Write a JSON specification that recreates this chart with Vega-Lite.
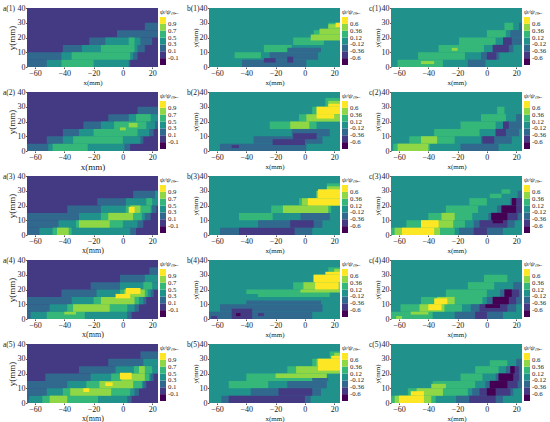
{
  "$schema": "https://vega.github.io/schema/vega-lite/v6.json",
  "padding": {"left": 3, "top": 4, "right": 0, "bottom": 0},
  "background": "white",
  "datasets": {
    "a1": [
      {"x": -65.5, "x2": 24, "y": 0, "y2": 40, "v": 0},
      {"x": -65.5, "x2": 5, "y": 0, "y2": 5, "v": 0.2},
      {"x": -65.5, "x2": 10, "y": 5, "y2": 10, "v": 0.2},
      {"x": -41, "x2": 15, "y": 10, "y2": 15, "v": 0.2},
      {"x": -23, "x2": 20, "y": 15, "y2": 20, "v": 0.2},
      {"x": -4, "x2": 24, "y": 20, "y2": 25, "v": 0.2},
      {"x": 15, "x2": 24, "y": 25, "y2": 30, "v": 0.2},
      {"x": -52, "x2": 4, "y": 0, "y2": 5, "v": 0.4},
      {"x": -42, "x2": 7, "y": 5, "y2": 10, "v": 0.4},
      {"x": -28, "x2": 10, "y": 10, "y2": 15, "v": 0.4},
      {"x": -12, "x2": 12, "y": 15, "y2": 20, "v": 0.4},
      {"x": -42, "x2": -20, "y": 0, "y2": 5, "v": 0.6},
      {"x": -35, "x2": 5, "y": 5, "y2": 10, "v": 0.6},
      {"x": -15, "x2": 8, "y": 10, "y2": 15, "v": 0.6},
      {"x": 4, "x2": 8, "y": 15, "y2": 20, "v": 0.6}
    ],
    "a2": [
      {"x": -65.5, "x2": 24, "y": 0, "y2": 40, "v": 0},
      {"x": -65.5, "x2": 5, "y": 0, "y2": 5, "v": 0.2},
      {"x": -52, "x2": 14, "y": 5, "y2": 10, "v": 0.2},
      {"x": -41, "x2": 21, "y": 10, "y2": 15, "v": 0.2},
      {"x": -27, "x2": 24, "y": 15, "y2": 20, "v": 0.2},
      {"x": -10, "x2": 24, "y": 20, "y2": 25, "v": 0.2},
      {"x": 10, "x2": 24, "y": 25, "y2": 30, "v": 0.2},
      {"x": -51, "x2": 1, "y": 0, "y2": 5, "v": 0.4},
      {"x": -41, "x2": 12, "y": 5, "y2": 10, "v": 0.4},
      {"x": -30, "x2": 18, "y": 10, "y2": 15, "v": 0.4},
      {"x": -15, "x2": 22, "y": 15, "y2": 20, "v": 0.4},
      {"x": 4, "x2": 24, "y": 20, "y2": 25, "v": 0.4},
      {"x": -48, "x2": -24, "y": 0, "y2": 5, "v": 0.6},
      {"x": -34, "x2": 0, "y": 5, "y2": 10, "v": 0.6},
      {"x": -20, "x2": 10, "y": 10, "y2": 15, "v": 0.6},
      {"x": -6, "x2": 16, "y": 15, "y2": 20, "v": 0.6},
      {"x": 9, "x2": 19, "y": 20, "y2": 25, "v": 0.6},
      {"x": -2, "x2": 2, "y": 14, "y2": 16, "v": 0.8},
      {"x": 4, "x2": 10, "y": 16, "y2": 19, "v": 0.8}
    ],
    "a3": [
      {"x": -65.5, "x2": 24, "y": 0, "y2": 40, "v": 0},
      {"x": -65.5, "x2": 9, "y": 0, "y2": 5, "v": 0.2},
      {"x": -65.5, "x2": 14, "y": 5, "y2": 10, "v": 0.2},
      {"x": -65.5, "x2": 19, "y": 10, "y2": 15, "v": 0.2},
      {"x": -38, "x2": 23, "y": 15, "y2": 20, "v": 0.2},
      {"x": -17.5, "x2": 24, "y": 20, "y2": 25, "v": 0.2},
      {"x": 7, "x2": 24, "y": 25, "y2": 30, "v": 0.2},
      {"x": -57, "x2": 5, "y": 0, "y2": 5, "v": 0.4},
      {"x": -44, "x2": 10, "y": 5, "y2": 10, "v": 0.4},
      {"x": -30, "x2": 15, "y": 10, "y2": 15, "v": 0.4},
      {"x": -15, "x2": 20, "y": 15, "y2": 20, "v": 0.4},
      {"x": 2, "x2": 24, "y": 20, "y2": 25, "v": 0.4},
      {"x": 22, "x2": 24, "y": 25, "y2": 30, "v": 0.4},
      {"x": -48, "x2": -35, "y": 0, "y2": 5, "v": 0.6},
      {"x": -32, "x2": 0, "y": 5, "y2": 10, "v": 0.6},
      {"x": -15, "x2": 13, "y": 10, "y2": 15, "v": 0.6},
      {"x": 2, "x2": 19, "y": 15, "y2": 20, "v": 0.6},
      {"x": 16, "x2": 20, "y": 20, "y2": 25, "v": 0.6},
      {"x": -45, "x2": -37, "y": 0, "y2": 5, "v": 0.8},
      {"x": -30, "x2": -9, "y": 5, "y2": 10, "v": 0.8},
      {"x": -10, "x2": 7, "y": 10, "y2": 15, "v": 0.8},
      {"x": 5, "x2": 12, "y": 15, "y2": 20, "v": 0.8},
      {"x": 4, "x2": 8, "y": 15, "y2": 19, "v": 0.95}
    ],
    "a4": [
      {"x": -65.5, "x2": 24, "y": 0, "y2": 40, "v": 0},
      {"x": -65.5, "x2": 6, "y": 0, "y2": 5, "v": 0.2},
      {"x": -65.5, "x2": 11, "y": 5, "y2": 10, "v": 0.2},
      {"x": -65.5, "x2": 16, "y": 10, "y2": 15, "v": 0.2},
      {"x": -42, "x2": 21, "y": 15, "y2": 20, "v": 0.2},
      {"x": -22, "x2": 24, "y": 20, "y2": 25, "v": 0.2},
      {"x": -2, "x2": 24, "y": 25, "y2": 30, "v": 0.2},
      {"x": 18, "x2": 24, "y": 30, "y2": 35, "v": 0.2},
      {"x": -63, "x2": 3, "y": 0, "y2": 5, "v": 0.4},
      {"x": -50, "x2": 8, "y": 5, "y2": 10, "v": 0.4},
      {"x": -35, "x2": 14, "y": 10, "y2": 15, "v": 0.4},
      {"x": -18, "x2": 19, "y": 15, "y2": 20, "v": 0.4},
      {"x": -2, "x2": 24, "y": 20, "y2": 25, "v": 0.4},
      {"x": 15, "x2": 24, "y": 25, "y2": 30, "v": 0.4},
      {"x": -52, "x2": -26, "y": 0, "y2": 5, "v": 0.6},
      {"x": -38, "x2": 3, "y": 5, "y2": 10, "v": 0.6},
      {"x": -20, "x2": 11, "y": 10, "y2": 15, "v": 0.6},
      {"x": -2, "x2": 17, "y": 15, "y2": 20, "v": 0.6},
      {"x": 14, "x2": 20, "y": 20, "y2": 25, "v": 0.6},
      {"x": -40, "x2": -32, "y": 3, "y2": 5, "v": 0.8},
      {"x": -34, "x2": -9, "y": 5, "y2": 10, "v": 0.8},
      {"x": -15, "x2": 8, "y": 10, "y2": 15, "v": 0.8},
      {"x": 1, "x2": 15, "y": 15, "y2": 20, "v": 0.8},
      {"x": -5, "x2": 5, "y": 14, "y2": 17, "v": 0.95},
      {"x": 2, "x2": 12, "y": 17, "y2": 21, "v": 0.95}
    ],
    "a5": [
      {"x": -65.5, "x2": 24, "y": 0, "y2": 40, "v": 0},
      {"x": -65.5, "x2": 6, "y": 0, "y2": 5, "v": 0.2},
      {"x": -65.5, "x2": 11, "y": 5, "y2": 10, "v": 0.2},
      {"x": -65.5, "x2": 16, "y": 10, "y2": 15, "v": 0.2},
      {"x": -53, "x2": 21, "y": 15, "y2": 20, "v": 0.2},
      {"x": -30, "x2": 24, "y": 20, "y2": 25, "v": 0.2},
      {"x": -10, "x2": 24, "y": 25, "y2": 30, "v": 0.2},
      {"x": 12, "x2": 24, "y": 30, "y2": 35, "v": 0.2},
      {"x": -64, "x2": 3, "y": 0, "y2": 5, "v": 0.4},
      {"x": -52, "x2": 8, "y": 5, "y2": 10, "v": 0.4},
      {"x": -38, "x2": 14, "y": 10, "y2": 15, "v": 0.4},
      {"x": -22, "x2": 19, "y": 15, "y2": 20, "v": 0.4},
      {"x": -5, "x2": 24, "y": 20, "y2": 25, "v": 0.4},
      {"x": 14, "x2": 24, "y": 25, "y2": 30, "v": 0.4},
      {"x": -55, "x2": -17, "y": 0, "y2": 5, "v": 0.6},
      {"x": -41, "x2": 5, "y": 5, "y2": 10, "v": 0.6},
      {"x": -25, "x2": 13, "y": 10, "y2": 15, "v": 0.6},
      {"x": -8, "x2": 18, "y": 15, "y2": 20, "v": 0.6},
      {"x": 7.5, "x2": 20, "y": 20, "y2": 25, "v": 0.6},
      {"x": -50, "x2": -38, "y": 0, "y2": 5, "v": 0.8},
      {"x": -36, "x2": -8, "y": 5, "y2": 10, "v": 0.8},
      {"x": -16, "x2": 7, "y": 10, "y2": 15, "v": 0.8},
      {"x": -1, "x2": 15, "y": 15, "y2": 20, "v": 0.8},
      {"x": 11, "x2": 15, "y": 20, "y2": 25, "v": 0.8},
      {"x": -27, "x2": -23, "y": 7.5, "y2": 10, "v": 0.95},
      {"x": -12, "x2": -7, "y": 11.5, "y2": 14, "v": 0.95},
      {"x": -2, "x2": 6, "y": 16, "y2": 20.5, "v": 0.95}
    ],
    "b1": [
      {"x": -65.5, "x2": 24, "y": 0, "y2": 40, "v": 0},
      {"x": -48, "x2": -30, "y": 6, "y2": 10, "v": 0.24},
      {"x": -28, "x2": -9, "y": 10, "y2": 15, "v": 0.24},
      {"x": -8, "x2": 13, "y": 15, "y2": 20, "v": 0.24},
      {"x": 6, "x2": 24, "y": 20, "y2": 25, "v": 0.24},
      {"x": 16, "x2": 24, "y": 25, "y2": 30, "v": 0.24},
      {"x": -43, "x2": 1, "y": 0, "y2": 5, "v": -0.24},
      {"x": -24, "x2": 9, "y": 5, "y2": 10, "v": -0.24},
      {"x": -12, "x2": 11, "y": 10, "y2": 13, "v": -0.24},
      {"x": 4, "x2": 24, "y": 18, "y2": 22, "v": 0.48},
      {"x": 10, "x2": 24, "y": 22, "y2": 26, "v": 0.48},
      {"x": 16, "x2": 24, "y": 26, "y2": 29, "v": 0.48},
      {"x": -28, "x2": -20, "y": 3, "y2": 6, "v": -0.48},
      {"x": -12, "x2": -8, "y": 3, "y2": 7, "v": -0.48},
      {"x": 21, "x2": 24, "y": 27, "y2": 30, "v": 0.7}
    ],
    "b2": [
      {"x": -65.5, "x2": 24, "y": 0, "y2": 40, "v": 0},
      {"x": -24, "x2": 8, "y": 15, "y2": 20, "v": 0.24},
      {"x": -4, "x2": 24, "y": 20, "y2": 25, "v": 0.24},
      {"x": 5, "x2": 24, "y": 25, "y2": 30, "v": 0.24},
      {"x": 14, "x2": 24, "y": 30, "y2": 36, "v": 0.24},
      {"x": -58, "x2": 1, "y": 0, "y2": 5, "v": -0.24},
      {"x": -35, "x2": 12, "y": 5, "y2": 10, "v": -0.24},
      {"x": -9, "x2": 17, "y": 10, "y2": 15, "v": -0.24},
      {"x": -10, "x2": 3, "y": 15, "y2": 20, "v": 0.48},
      {"x": 1, "x2": 24, "y": 20, "y2": 25, "v": 0.48},
      {"x": 8, "x2": 24, "y": 25, "y2": 30, "v": 0.48},
      {"x": 16, "x2": 24, "y": 30, "y2": 34, "v": 0.48},
      {"x": -50, "x2": -45, "y": 2, "y2": 4, "v": -0.48},
      {"x": -22, "x2": 0, "y": 4, "y2": 8, "v": -0.48},
      {"x": -8, "x2": 8, "y": 8, "y2": 12, "v": -0.48},
      {"x": 8, "x2": 20, "y": 22, "y2": 25, "v": 0.7},
      {"x": 8, "x2": 24, "y": 25, "y2": 30, "v": 0.7},
      {"x": 16, "x2": 24, "y": 30, "y2": 32, "v": 0.7}
    ],
    "b3": [
      {"x": -65.5, "x2": 24, "y": 0, "y2": 40, "v": 0},
      {"x": -45, "x2": -22, "y": 10, "y2": 15, "v": 0.24},
      {"x": -23, "x2": 18, "y": 15, "y2": 20, "v": 0.24},
      {"x": -4, "x2": 24, "y": 20, "y2": 25, "v": 0.24},
      {"x": 8, "x2": 24, "y": 25, "y2": 30, "v": 0.24},
      {"x": 15, "x2": 24, "y": 30, "y2": 35, "v": 0.24},
      {"x": -58, "x2": 5, "y": 0, "y2": 5, "v": -0.24},
      {"x": -32, "x2": 12, "y": 5, "y2": 10, "v": -0.24},
      {"x": -3, "x2": 17, "y": 10, "y2": 15, "v": -0.24},
      {"x": -15, "x2": 16, "y": 15, "y2": 20, "v": 0.48},
      {"x": -2, "x2": 24, "y": 20, "y2": 25, "v": 0.48},
      {"x": 8, "x2": 24, "y": 25, "y2": 30, "v": 0.48},
      {"x": 15, "x2": 24, "y": 30, "y2": 33, "v": 0.48},
      {"x": -45, "x2": -7, "y": 0, "y2": 5, "v": -0.48},
      {"x": -10, "x2": 6, "y": 5, "y2": 10, "v": -0.48},
      {"x": 2, "x2": 24, "y": 20, "y2": 25, "v": 0.7},
      {"x": 9, "x2": 24, "y": 25, "y2": 31, "v": 0.7}
    ],
    "b4": [
      {"x": -65.5, "x2": 24, "y": 0, "y2": 40, "v": 0},
      {"x": -40, "x2": -32, "y": 17, "y2": 20, "v": 0.24},
      {"x": -32, "x2": 17, "y": 15, "y2": 20, "v": 0.24},
      {"x": -8, "x2": 24, "y": 20, "y2": 25, "v": 0.24},
      {"x": 6, "x2": 24, "y": 25, "y2": 30, "v": 0.24},
      {"x": 16, "x2": 24, "y": 30, "y2": 35, "v": 0.24},
      {"x": -65.5, "x2": 5, "y": 0, "y2": 5, "v": -0.24},
      {"x": -58, "x2": 12, "y": 5, "y2": 10, "v": -0.24},
      {"x": -40, "x2": 11, "y": 10, "y2": 12.5, "v": -0.24},
      {"x": -3, "x2": 24, "y": 18, "y2": 20, "v": 0.48},
      {"x": -1, "x2": 24, "y": 20, "y2": 25, "v": 0.48},
      {"x": 6, "x2": 24, "y": 25, "y2": 30, "v": 0.48},
      {"x": 20, "x2": 24, "y": 30, "y2": 34, "v": 0.48},
      {"x": -50, "x2": -36, "y": 0, "y2": 7, "v": -0.48},
      {"x": -64, "x2": -60, "y": 0, "y2": 2, "v": -0.48},
      {"x": -32, "x2": -28, "y": 2, "y2": 4, "v": -0.48},
      {"x": 7, "x2": 23, "y": 20, "y2": 25, "v": 0.7},
      {"x": 6, "x2": 24, "y": 25, "y2": 30, "v": 0.7},
      {"x": 14, "x2": 24, "y": 30, "y2": 32, "v": 0.7},
      {"x": -47, "x2": -44, "y": 2, "y2": 4, "v": -0.7}
    ],
    "b5": [
      {"x": -65.5, "x2": 24, "y": 0, "y2": 40, "v": 0},
      {"x": -52, "x2": -25, "y": 10, "y2": 15, "v": 0.24},
      {"x": -40, "x2": 8, "y": 15, "y2": 20, "v": 0.24},
      {"x": -12, "x2": 24, "y": 20, "y2": 25, "v": 0.24},
      {"x": 5, "x2": 24, "y": 25, "y2": 30, "v": 0.24},
      {"x": 17, "x2": 24, "y": 30, "y2": 35, "v": 0.24},
      {"x": -57, "x2": 4, "y": 0, "y2": 5, "v": -0.24},
      {"x": -37, "x2": 11, "y": 5, "y2": 10, "v": -0.24},
      {"x": -12, "x2": 15, "y": 10, "y2": 15, "v": -0.24},
      {"x": 5, "x2": 16, "y": 15, "y2": 17, "v": -0.24},
      {"x": -20, "x2": 15, "y": 17, "y2": 20, "v": 0.48},
      {"x": -6, "x2": 24, "y": 20, "y2": 25, "v": 0.48},
      {"x": 8, "x2": 24, "y": 25, "y2": 30, "v": 0.48},
      {"x": 20, "x2": 24, "y": 30, "y2": 34, "v": 0.48},
      {"x": -52, "x2": 0, "y": 0, "y2": 5, "v": -0.48},
      {"x": -18, "x2": 5, "y": 5, "y2": 10, "v": -0.48},
      {"x": 9, "x2": 24, "y": 22, "y2": 30, "v": 0.7},
      {"x": 18, "x2": 24, "y": 30, "y2": 32, "v": 0.7}
    ],
    "c1": [
      {"x": -65.5, "x2": 24, "y": 0, "y2": 40, "v": 0},
      {"x": -61, "x2": -30, "y": 0, "y2": 5, "v": 0.24},
      {"x": -47, "x2": -15, "y": 5, "y2": 10, "v": 0.24},
      {"x": -33, "x2": -2, "y": 10, "y2": 15, "v": 0.24},
      {"x": -19, "x2": 6, "y": 15, "y2": 20, "v": 0.24},
      {"x": 0, "x2": 13, "y": 20, "y2": 25, "v": 0.24},
      {"x": 12, "x2": 18, "y": 25, "y2": 30, "v": 0.24},
      {"x": -13, "x2": -1, "y": 0, "y2": 5, "v": -0.24},
      {"x": -4, "x2": 8.5, "y": 5, "y2": 10, "v": -0.24},
      {"x": 4, "x2": 18, "y": 10, "y2": 15, "v": -0.24},
      {"x": 11, "x2": 24, "y": 15, "y2": 20, "v": -0.24},
      {"x": 16, "x2": 24, "y": 20, "y2": 25, "v": -0.24},
      {"x": 22, "x2": 24, "y": 25, "y2": 30, "v": -0.24},
      {"x": -45, "x2": -36, "y": 2, "y2": 4, "v": 0.48},
      {"x": -24, "x2": -20, "y": 11, "y2": 13, "v": 0.48},
      {"x": 0, "x2": 6.5, "y": 5, "y2": 10, "v": -0.48},
      {"x": 4, "x2": 15, "y": 10, "y2": 15, "v": -0.48},
      {"x": 11, "x2": 17, "y": 15, "y2": 20, "v": -0.48}
    ],
    "c2": [
      {"x": -65.5, "x2": 24, "y": 0, "y2": 40, "v": 0},
      {"x": -64, "x2": -39, "y": 0, "y2": 5, "v": 0.24},
      {"x": -53, "x2": -22, "y": 5, "y2": 10, "v": 0.24},
      {"x": -36, "x2": -5, "y": 10, "y2": 15, "v": 0.24},
      {"x": -18, "x2": 6, "y": 15, "y2": 20, "v": 0.24},
      {"x": -4, "x2": 13, "y": 20, "y2": 25, "v": 0.24},
      {"x": 7, "x2": 12, "y": 25, "y2": 30, "v": 0.24},
      {"x": -18, "x2": 8, "y": 0, "y2": 5, "v": -0.24},
      {"x": -4, "x2": 17, "y": 5, "y2": 10, "v": -0.24},
      {"x": 6, "x2": 22, "y": 10, "y2": 15, "v": -0.24},
      {"x": 14, "x2": 24, "y": 15, "y2": 20, "v": -0.24},
      {"x": 20, "x2": 24, "y": 20, "y2": 25, "v": -0.24},
      {"x": -61, "x2": -40, "y": 0, "y2": 5, "v": 0.48},
      {"x": -45, "x2": -34, "y": 5, "y2": 10, "v": 0.48},
      {"x": -3, "x2": 5, "y": 5, "y2": 10, "v": -0.48},
      {"x": 6, "x2": 13, "y": 10, "y2": 15, "v": -0.48},
      {"x": 11, "x2": 15, "y": 15, "y2": 20, "v": -0.48}
    ],
    "c3": [
      {"x": -65.5, "x2": 24, "y": 0, "y2": 40, "v": 0},
      {"x": -65.5, "x2": -22, "y": 0, "y2": 5, "v": 0.24},
      {"x": -55, "x2": -15, "y": 5, "y2": 10, "v": 0.24},
      {"x": -40, "x2": -10, "y": 10, "y2": 15, "v": 0.24},
      {"x": -28, "x2": -6, "y": 15, "y2": 20, "v": 0.24},
      {"x": -12, "x2": 0, "y": 20, "y2": 25, "v": 0.24},
      {"x": 2, "x2": 10, "y": 25, "y2": 28, "v": 0.24},
      {"x": 10, "x2": 16, "y": 28, "y2": 31, "v": 0.24},
      {"x": -19, "x2": 11, "y": 0, "y2": 5, "v": -0.24},
      {"x": -9, "x2": 19, "y": 5, "y2": 10, "v": -0.24},
      {"x": 1, "x2": 24, "y": 10, "y2": 15, "v": -0.24},
      {"x": 7, "x2": 24, "y": 15, "y2": 20, "v": -0.24},
      {"x": 16, "x2": 24, "y": 20, "y2": 25, "v": -0.24},
      {"x": 21, "x2": 24, "y": 25, "y2": 30, "v": -0.24},
      {"x": -63, "x2": -32, "y": 0, "y2": 5, "v": 0.48},
      {"x": -45, "x2": -23, "y": 5, "y2": 10, "v": 0.48},
      {"x": -31, "x2": -22, "y": 10, "y2": 15, "v": 0.48},
      {"x": -9, "x2": 0, "y": 0, "y2": 5, "v": -0.48},
      {"x": -5, "x2": 14, "y": 5, "y2": 10, "v": -0.48},
      {"x": 3, "x2": 21, "y": 10, "y2": 15, "v": -0.48},
      {"x": 10, "x2": 24, "y": 15, "y2": 20, "v": -0.48},
      {"x": 18, "x2": 24, "y": 20, "y2": 25, "v": -0.48},
      {"x": -58, "x2": -36, "y": 0, "y2": 5, "v": 0.7},
      {"x": -45, "x2": -33, "y": 5, "y2": 10, "v": 0.7},
      {"x": 4, "x2": 11, "y": 8, "y2": 10, "v": -0.7},
      {"x": 3, "x2": 14, "y": 10, "y2": 15, "v": -0.7},
      {"x": 10, "x2": 20, "y": 15, "y2": 20, "v": -0.7},
      {"x": 17, "x2": 20, "y": 20, "y2": 25, "v": -0.7}
    ],
    "c4": [
      {"x": -65.5, "x2": 24, "y": 0, "y2": 40, "v": 0},
      {"x": -65.5, "x2": -37, "y": 0, "y2": 5, "v": 0.24},
      {"x": -59, "x2": -17, "y": 5, "y2": 10, "v": 0.24},
      {"x": -45, "x2": -3, "y": 10, "y2": 15, "v": 0.24},
      {"x": -28, "x2": 0, "y": 15, "y2": 20, "v": 0.24},
      {"x": -13, "x2": 5, "y": 20, "y2": 25, "v": 0.24},
      {"x": -2, "x2": 14, "y": 25, "y2": 30, "v": 0.24},
      {"x": -22, "x2": 11, "y": 0, "y2": 5, "v": -0.24},
      {"x": -11, "x2": 20, "y": 5, "y2": 10, "v": -0.24},
      {"x": 0, "x2": 24, "y": 10, "y2": 15, "v": -0.24},
      {"x": 9, "x2": 24, "y": 15, "y2": 20, "v": -0.24},
      {"x": 18, "x2": 24, "y": 20, "y2": 25, "v": -0.24},
      {"x": -62, "x2": -58, "y": 0, "y2": 2, "v": 0.48},
      {"x": -52, "x2": -40, "y": 3, "y2": 5, "v": 0.48},
      {"x": -46, "x2": -29, "y": 5, "y2": 10, "v": 0.48},
      {"x": -34, "x2": -22, "y": 10, "y2": 15, "v": 0.48},
      {"x": -8, "x2": 0, "y": 0, "y2": 5, "v": -0.48},
      {"x": -5, "x2": 14, "y": 5, "y2": 10, "v": -0.48},
      {"x": 4, "x2": 20, "y": 10, "y2": 15, "v": -0.48},
      {"x": 12, "x2": 22, "y": 15, "y2": 20, "v": -0.48},
      {"x": -40, "x2": -31, "y": 6, "y2": 10, "v": 0.7},
      {"x": -36, "x2": -27, "y": 10, "y2": 14, "v": 0.7},
      {"x": -1, "x2": 9, "y": 7.5, "y2": 10, "v": -0.7},
      {"x": 4, "x2": 15, "y": 10, "y2": 15, "v": -0.7},
      {"x": 12, "x2": 17, "y": 15, "y2": 20, "v": -0.7}
    ],
    "c5": [
      {"x": -65.5, "x2": 24, "y": 0, "y2": 40, "v": 0},
      {"x": -65.5, "x2": -35, "y": 0, "y2": 5, "v": 0.24},
      {"x": -54, "x2": -13, "y": 5, "y2": 10, "v": 0.24},
      {"x": -37, "x2": -8, "y": 10, "y2": 15, "v": 0.24},
      {"x": -18, "x2": -3, "y": 15, "y2": 20, "v": 0.24},
      {"x": -8, "x2": 8, "y": 20, "y2": 25, "v": 0.24},
      {"x": 2, "x2": 14, "y": 25, "y2": 29, "v": 0.24},
      {"x": -21, "x2": 11, "y": 0, "y2": 5, "v": -0.24},
      {"x": -10, "x2": 18, "y": 5, "y2": 10, "v": -0.24},
      {"x": -1, "x2": 24, "y": 10, "y2": 15, "v": -0.24},
      {"x": 6, "x2": 24, "y": 15, "y2": 20, "v": -0.24},
      {"x": 13, "x2": 24, "y": 20, "y2": 25, "v": -0.24},
      {"x": 20, "x2": 24, "y": 25, "y2": 30, "v": -0.24},
      {"x": -63, "x2": -38, "y": 0, "y2": 5, "v": 0.48},
      {"x": -48, "x2": -30, "y": 5, "y2": 10, "v": 0.48},
      {"x": -38, "x2": -28, "y": 10, "y2": 13, "v": 0.48},
      {"x": -12, "x2": 6, "y": 0, "y2": 5, "v": -0.48},
      {"x": -5, "x2": 16, "y": 5, "y2": 10, "v": -0.48},
      {"x": 2, "x2": 21, "y": 10, "y2": 15, "v": -0.48},
      {"x": 8, "x2": 22, "y": 15, "y2": 20, "v": -0.48},
      {"x": 16, "x2": 22, "y": 20, "y2": 25, "v": -0.48},
      {"x": -60, "x2": -43, "y": 0, "y2": 5, "v": 0.7},
      {"x": -52, "x2": -43, "y": 5, "y2": 8, "v": 0.7},
      {"x": 0, "x2": 6, "y": 5, "y2": 10, "v": -0.7},
      {"x": 2, "x2": 14, "y": 10, "y2": 15, "v": -0.7},
      {"x": 8, "x2": 18, "y": 15, "y2": 20, "v": -0.7},
      {"x": 16, "x2": 19, "y": 20, "y2": 25, "v": -0.7}
    ]
  },
  "columns": 3,
  "spacing": {"row": 25, "column": 51},
  "bounds": "flush",
  "resolve": {"scale": {"color": "independent"}},
  "concat": [
    {"title": "a(1)", "data": {"name": "a1"}, "mark": {"type": "rect", "clip": true},
     "encoding": {
       "x": {"field": "x", "type": "quantitative", "scale": {"domain": [-65.5, 24], "nice": false, "zero": false}, "axis": {"title": "x(mm)", "titleFontSize": 7}},
       "x2": {"field": "x2"},
       "y": {"field": "y", "type": "quantitative", "scale": {"domain": [0, 40], "nice": false}, "axis": {"title": "y(mm)", "titleFontSize": 9}},
       "y2": {"field": "y2"},
       "color": {"field": "v", "type": "quantitative", "scale": {"type": "threshold", "domain": [-0.1, 0.1, 0.3, 0.5, 0.7, 0.9], "range": ["#440154", "#443983", "#31688e", "#21918c", "#35b779", "#8fd744", "#fde725"]}, "legend": {"type": "gradient", "title": "ψ/ψₘₐₓ"}}
     }},
    {"title": "b(1)", "data": {"name": "b1"}, "mark": {"type": "rect", "clip": true},
     "encoding": {
       "x": {"field": "x", "type": "quantitative", "scale": {"domain": [-65.5, 24], "nice": false, "zero": false}, "axis": {"title": "x(mm)"}},
       "x2": {"field": "x2"},
       "y": {"field": "y", "type": "quantitative", "scale": {"domain": [0, 40], "nice": false}, "axis": {"title": "y(mm)"}},
       "y2": {"field": "y2"},
       "color": {"field": "v", "type": "quantitative", "scale": {"type": "threshold", "domain": [-0.6, -0.36, -0.12, 0.12, 0.36, 0.6], "range": ["#440154", "#443983", "#31688e", "#21918c", "#35b779", "#8fd744", "#fde725"]}, "legend": {"type": "gradient", "title": "ψ/ψₘₐₓ"}}
     }},
    {"title": "c(1)", "data": {"name": "c1"}, "mark": {"type": "rect", "clip": true},
     "encoding": {
       "x": {"field": "x", "type": "quantitative", "scale": {"domain": [-65.5, 24], "nice": false, "zero": false}, "axis": {"title": "x(mm)"}},
       "x2": {"field": "x2"},
       "y": {"field": "y", "type": "quantitative", "scale": {"domain": [0, 40], "nice": false}, "axis": {"title": "y(mm)"}},
       "y2": {"field": "y2"},
       "color": {"field": "v", "type": "quantitative", "scale": {"type": "threshold", "domain": [-0.6, -0.36, -0.12, 0.12, 0.36, 0.6], "range": ["#440154", "#443983", "#31688e", "#21918c", "#35b779", "#8fd744", "#fde725"]}, "legend": {"type": "gradient", "title": "ψ/ψₘₐₓ"}}
     }},
    {"title": "a(2)", "data": {"name": "a2"}, "mark": {"type": "rect", "clip": true},
     "encoding": {
       "x": {"field": "x", "type": "quantitative", "scale": {"domain": [-65.5, 24], "nice": false, "zero": false}, "axis": {"title": "x(mm)", "titleFontSize": 9}},
       "x2": {"field": "x2"},
       "y": {"field": "y", "type": "quantitative", "scale": {"domain": [0, 40], "nice": false}, "axis": {"title": "y(mm)", "titleFontSize": 9}},
       "y2": {"field": "y2"},
       "color": {"field": "v", "type": "quantitative", "scale": {"type": "threshold", "domain": [-0.1, 0.1, 0.3, 0.5, 0.7, 0.9], "range": ["#440154", "#443983", "#31688e", "#21918c", "#35b779", "#8fd744", "#fde725"]}, "legend": {"type": "gradient", "title": "ψ/ψₘₐₓ"}}
     }},
    {"title": "b(2)", "data": {"name": "b2"}, "mark": {"type": "rect", "clip": true},
     "encoding": {
       "x": {"field": "x", "type": "quantitative", "scale": {"domain": [-65.5, 24], "nice": false, "zero": false}, "axis": {"title": "x(mm)"}},
       "x2": {"field": "x2"},
       "y": {"field": "y", "type": "quantitative", "scale": {"domain": [0, 40], "nice": false}, "axis": {"title": "y(mm)"}},
       "y2": {"field": "y2"},
       "color": {"field": "v", "type": "quantitative", "scale": {"type": "threshold", "domain": [-0.6, -0.36, -0.12, 0.12, 0.36, 0.6], "range": ["#440154", "#443983", "#31688e", "#21918c", "#35b779", "#8fd744", "#fde725"]}, "legend": {"type": "gradient", "title": "ψ/ψₘₐₓ"}}
     }},
    {"title": "c(2)", "data": {"name": "c2"}, "mark": {"type": "rect", "clip": true},
     "encoding": {
       "x": {"field": "x", "type": "quantitative", "scale": {"domain": [-65.5, 24], "nice": false, "zero": false}, "axis": {"title": "x(mm)"}},
       "x2": {"field": "x2"},
       "y": {"field": "y", "type": "quantitative", "scale": {"domain": [0, 40], "nice": false}, "axis": {"title": "y(mm)"}},
       "y2": {"field": "y2"},
       "color": {"field": "v", "type": "quantitative", "scale": {"type": "threshold", "domain": [-0.6, -0.36, -0.12, 0.12, 0.36, 0.6], "range": ["#440154", "#443983", "#31688e", "#21918c", "#35b779", "#8fd744", "#fde725"]}, "legend": {"type": "gradient", "title": "ψ/ψₘₐₓ"}}
     }},
    {"title": "a(3)", "data": {"name": "a3"}, "mark": {"type": "rect", "clip": true},
     "encoding": {
       "x": {"field": "x", "type": "quantitative", "scale": {"domain": [-65.5, 24], "nice": false, "zero": false}, "axis": {"title": "x(mm)", "titleFontSize": 8}},
       "x2": {"field": "x2"},
       "y": {"field": "y", "type": "quantitative", "scale": {"domain": [0, 40], "nice": false}, "axis": {"title": "y(mm)", "titleFontSize": 9}},
       "y2": {"field": "y2"},
       "color": {"field": "v", "type": "quantitative", "scale": {"type": "threshold", "domain": [-0.1, 0.1, 0.3, 0.5, 0.7, 0.9], "range": ["#440154", "#443983", "#31688e", "#21918c", "#35b779", "#8fd744", "#fde725"]}, "legend": {"type": "gradient", "title": "ψ/ψₘₐₓ"}}
     }},
    {"title": "b(3)", "data": {"name": "b3"}, "mark": {"type": "rect", "clip": true},
     "encoding": {
       "x": {"field": "x", "type": "quantitative", "scale": {"domain": [-65.5, 24], "nice": false, "zero": false}, "axis": {"title": "x(mm)"}},
       "x2": {"field": "x2"},
       "y": {"field": "y", "type": "quantitative", "scale": {"domain": [0, 40], "nice": false}, "axis": {"title": "y(mm)"}},
       "y2": {"field": "y2"},
       "color": {"field": "v", "type": "quantitative", "scale": {"type": "threshold", "domain": [-0.6, -0.36, -0.12, 0.12, 0.36, 0.6], "range": ["#440154", "#443983", "#31688e", "#21918c", "#35b779", "#8fd744", "#fde725"]}, "legend": {"type": "gradient", "title": "ψ/ψₘₐₓ"}}
     }},
    {"title": "c(3)", "data": {"name": "c3"}, "mark": {"type": "rect", "clip": true},
     "encoding": {
       "x": {"field": "x", "type": "quantitative", "scale": {"domain": [-65.5, 24], "nice": false, "zero": false}, "axis": {"title": "x(mm)"}},
       "x2": {"field": "x2"},
       "y": {"field": "y", "type": "quantitative", "scale": {"domain": [0, 40], "nice": false}, "axis": {"title": "y(mm)"}},
       "y2": {"field": "y2"},
       "color": {"field": "v", "type": "quantitative", "scale": {"type": "threshold", "domain": [-0.6, -0.36, -0.12, 0.12, 0.36, 0.6], "range": ["#440154", "#443983", "#31688e", "#21918c", "#35b779", "#8fd744", "#fde725"]}, "legend": {"type": "gradient", "title": "ψ/ψₘₐₓ"}}
     }},
    {"title": "a(4)", "data": {"name": "a4"}, "mark": {"type": "rect", "clip": true},
     "encoding": {
       "x": {"field": "x", "type": "quantitative", "scale": {"domain": [-65.5, 24], "nice": false, "zero": false}, "axis": {"title": "x(mm)", "titleFontSize": 8}},
       "x2": {"field": "x2"},
       "y": {"field": "y", "type": "quantitative", "scale": {"domain": [0, 40], "nice": false}, "axis": {"title": "y(mm)", "titleFontSize": 9}},
       "y2": {"field": "y2"},
       "color": {"field": "v", "type": "quantitative", "scale": {"type": "threshold", "domain": [-0.1, 0.1, 0.3, 0.5, 0.7, 0.9], "range": ["#440154", "#443983", "#31688e", "#21918c", "#35b779", "#8fd744", "#fde725"]}, "legend": {"type": "gradient", "title": "ψ/ψₘₐₓ"}}
     }},
    {"title": "b(4)", "data": {"name": "b4"}, "mark": {"type": "rect", "clip": true},
     "encoding": {
       "x": {"field": "x", "type": "quantitative", "scale": {"domain": [-65.5, 24], "nice": false, "zero": false}, "axis": {"title": "x(mm)"}},
       "x2": {"field": "x2"},
       "y": {"field": "y", "type": "quantitative", "scale": {"domain": [0, 40], "nice": false}, "axis": {"title": "y(mm)"}},
       "y2": {"field": "y2"},
       "color": {"field": "v", "type": "quantitative", "scale": {"type": "threshold", "domain": [-0.6, -0.36, -0.12, 0.12, 0.36, 0.6], "range": ["#440154", "#443983", "#31688e", "#21918c", "#35b779", "#8fd744", "#fde725"]}, "legend": {"type": "gradient", "title": "ψ/ψₘₐₓ"}}
     }},
    {"title": "c(4)", "data": {"name": "c4"}, "mark": {"type": "rect", "clip": true},
     "encoding": {
       "x": {"field": "x", "type": "quantitative", "scale": {"domain": [-65.5, 24], "nice": false, "zero": false}, "axis": {"title": "x(mm)"}},
       "x2": {"field": "x2"},
       "y": {"field": "y", "type": "quantitative", "scale": {"domain": [0, 40], "nice": false}, "axis": {"title": "y(mm)"}},
       "y2": {"field": "y2"},
       "color": {"field": "v", "type": "quantitative", "scale": {"type": "threshold", "domain": [-0.6, -0.36, -0.12, 0.12, 0.36, 0.6], "range": ["#440154", "#443983", "#31688e", "#21918c", "#35b779", "#8fd744", "#fde725"]}, "legend": {"type": "gradient", "title": "ψ/ψₘₐₓ"}}
     }},
    {"title": "a(5)", "data": {"name": "a5"}, "mark": {"type": "rect", "clip": true},
     "encoding": {
       "x": {"field": "x", "type": "quantitative", "scale": {"domain": [-65.5, 24], "nice": false, "zero": false}, "axis": {"title": "x(mm)", "titleFontSize": 8}},
       "x2": {"field": "x2"},
       "y": {"field": "y", "type": "quantitative", "scale": {"domain": [0, 40], "nice": false}, "axis": {"title": "y(mm)", "titleFontSize": 9}},
       "y2": {"field": "y2"},
       "color": {"field": "v", "type": "quantitative", "scale": {"type": "threshold", "domain": [-0.1, 0.1, 0.3, 0.5, 0.7, 0.9], "range": ["#440154", "#443983", "#31688e", "#21918c", "#35b779", "#8fd744", "#fde725"]}, "legend": {"type": "gradient", "title": "ψ/ψₘₐₓ"}}
     }},
    {"title": "b(5)", "data": {"name": "b5"}, "mark": {"type": "rect", "clip": true},
     "encoding": {
       "x": {"field": "x", "type": "quantitative", "scale": {"domain": [-65.5, 24], "nice": false, "zero": false}, "axis": {"title": "x(mm)"}},
       "x2": {"field": "x2"},
       "y": {"field": "y", "type": "quantitative", "scale": {"domain": [0, 40], "nice": false}, "axis": {"title": "y(mm)"}},
       "y2": {"field": "y2"},
       "color": {"field": "v", "type": "quantitative", "scale": {"type": "threshold", "domain": [-0.6, -0.36, -0.12, 0.12, 0.36, 0.6], "range": ["#440154", "#443983", "#31688e", "#21918c", "#35b779", "#8fd744", "#fde725"]}, "legend": {"type": "gradient", "title": "ψ/ψₘₐₓ"}}
     }},
    {"title": "c(5)", "data": {"name": "c5"}, "mark": {"type": "rect", "clip": true},
     "encoding": {
       "x": {"field": "x", "type": "quantitative", "scale": {"domain": [-65.5, 24], "nice": false, "zero": false}, "axis": {"title": "x(mm)"}},
       "x2": {"field": "x2"},
       "y": {"field": "y", "type": "quantitative", "scale": {"domain": [0, 40], "nice": false}, "axis": {"title": "y(mm)"}},
       "y2": {"field": "y2"},
       "color": {"field": "v", "type": "quantitative", "scale": {"type": "threshold", "domain": [-0.6, -0.36, -0.12, 0.12, 0.36, 0.6], "range": ["#440154", "#443983", "#31688e", "#21918c", "#35b779", "#8fd744", "#fde725"]}, "legend": {"type": "gradient", "title": "ψ/ψₘₐₓ"}}
     }}
  ],
  "config": {
    "font": "Liberation Serif",
    "view": {"stroke": null, "continuousWidth": 131, "continuousHeight": 59},
    "axis": {"labelFontSize": 8, "titleFontSize": 7, "titleFontWeight": "normal", "labelColor": "#222", "titleColor": "#222", "domain": false, "grid": false, "tickSize": 1.5, "tickColor": "#555", "labelPadding": 0.5, "titlePadding": 1},
    "axisX": {"tickCount": 5},
    "axisY": {"tickCount": 4},
    "legend": {"titleFontSize": 7, "titleFontWeight": "normal", "titleFontStyle": "italic", "labelFontSize": 6.8, "labelOverlap": false, "gradientLength": 48, "gradientThickness": 6, "offset": 2, "padding": 0, "titlePadding": 2, "labelOffset": 1.5, "labelColor": "#222", "titleColor": "#222", "gradientStrokeWidth": 0},
    "title": {"fontSize": 7.5, "fontWeight": "normal", "anchor": "start", "frame": "bounds", "offset": 0, "dx": -4, "dy": 12, "color": "#222"}
  }
}
